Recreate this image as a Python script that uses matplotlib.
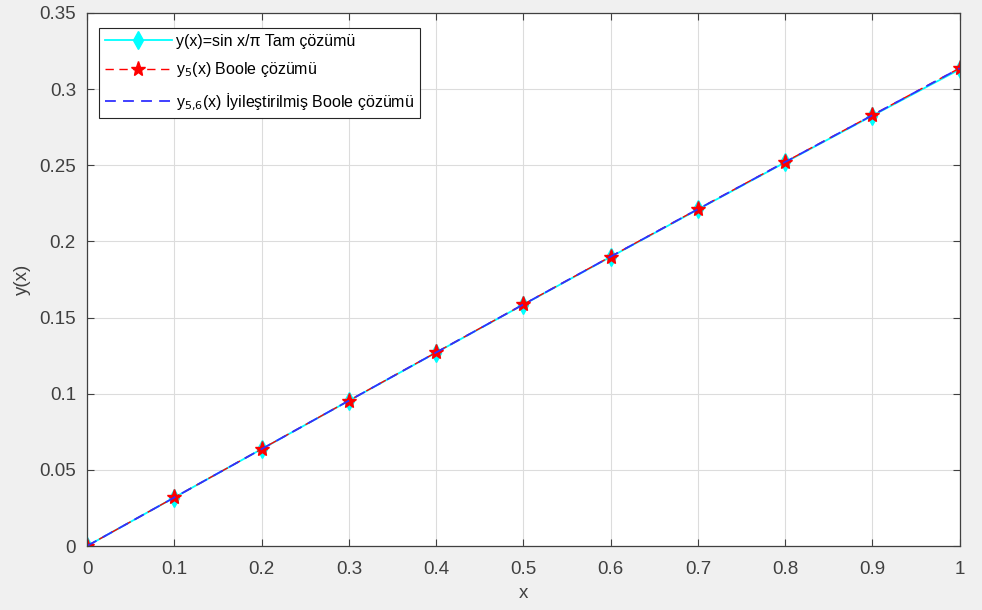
import numpy as np
import matplotlib.pyplot as plt

plt.rcParams['font.family'] = ['Liberation Sans', 'DejaVu Sans']

x = [0.0, 0.1, 0.2, 0.3, 0.4, 0.5, 0.6, 0.7, 0.8, 0.9, 1.0]
# exact solution
y_exact = [0.0, 0.03183, 0.06362, 0.09535, 0.12698, 0.15848, 0.18983,
           0.22098, 0.25190, 0.28257, 0.31296]
# Boole, h = 0.1
y_boole = [0.0, 0.03186, 0.06368, 0.09545, 0.12712, 0.15866, 0.19006,
           0.22126, 0.25224, 0.28298, 0.31380]
# improved Boole
y_boole_imp = [0.0, 0.03185, 0.06366, 0.09542, 0.12708, 0.15861, 0.19000,
               0.22119, 0.25215, 0.28288, 0.31370]

xticks = [0, 0.1, 0.2, 0.3, 0.4, 0.5, 0.6, 0.7, 0.8, 0.9, 1]
yticks = [0, 0.05, 0.1, 0.15, 0.2, 0.25, 0.3, 0.35]

fig = plt.figure(figsize=(9.82, 6.10), dpi=100, facecolor='#f0f0f0')
ax = fig.add_axes([0.0886, 0.1049, 0.8887, 0.8738])
ax.set_facecolor('white')

ax.plot(x, y_exact, '-', color='cyan', lw=1.3, marker='d', ms=9,
        mfc='cyan', mec='cyan', label=r'y(x)=sin x/π Tam çözümü')
ax.plot(x, y_boole, color='red', lw=1.0, ls=(0, (6, 4)), marker='*', ms=11,
        mfc='red', mec='red', label=r'y$_5$(x) Boole çözümü')
ax.plot(x, y_boole_imp, color='#3030ff', lw=1.3, ls=(0, (6, 4)),
        label=r'y$_{5{,}6}$(x) İyileştirilmiş Boole çözümü')

ax.set_xlim(0, 1)
ax.set_ylim(0, 0.35)
ax.set_xticks(xticks)
ax.set_xticklabels(['0', '0.1', '0.2', '0.3', '0.4', '0.5', '0.6', '0.7', '0.8', '0.9', '1'])
ax.set_yticks(yticks)
ax.set_yticklabels(['0', '0.05', '0.1', '0.15', '0.2', '0.25', '0.3', '0.35'])
ax.tick_params(direction='in', length=5, width=0.8, colors='#404040',
               labelsize=13.5, top=True, right=True)
ax.tick_params(axis='x', pad=11)
ax.tick_params(axis='y', pad=8)
ax.grid(True, color='#dcdcdc', lw=0.8)
ax.set_axisbelow(True)
for s in ax.spines.values():
    s.set_color('#404040')
    s.set_linewidth(0.9)

ax.set_xlabel('x', fontsize=13.5, color='#404040', labelpad=5)
ax.set_ylabel('y(x)', fontsize=13.5, color='#404040', labelpad=6)

leg = ax.legend(loc='upper left', bbox_to_anchor=(0.0137, 0.972), fontsize=11.5,
                fancybox=False, framealpha=1, edgecolor='#262626',
                borderpad=0.35, labelspacing=0.75, handlelength=4.2,
                handletextpad=0.3, borderaxespad=0)
leg.get_frame().set_linewidth(0.8)

fig.savefig('out.png', dpi=100, facecolor=fig.get_facecolor())
